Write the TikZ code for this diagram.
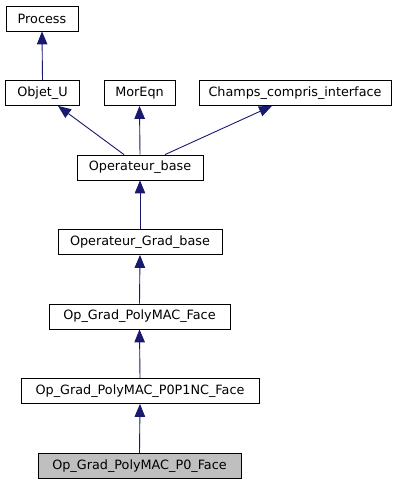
\documentclass[tikz,border=0pt]{standalone}
\usepackage{fontspec}
\setmainfont{DejaVu Sans}
\usepackage{xcolor}
\usepackage{tikz}
\usetikzlibrary{arrows.meta}

\definecolor{edgeblue}{HTML}{191970}
\definecolor{boxgray}{HTML}{BFBFBF}

\tikzset{
  cls/.style={draw=black, line width=0.8pt, fill=white, minimum height=25pt,
    inner sep=0pt, font=\fontsize{12.8pt}{14pt}\selectfont},
  edge/.style={draw=edgeblue, line width=0.9pt,
    -{Triangle[length=13pt, width=10.5pt]}}
}

\begin{document}
\begin{tikzpicture}[x=1pt, y=-1pt]
% Page frame
\useasboundingbox (0,0) rectangle (403,485);

% Classes, top row to bottom row
\node[cls, minimum width=72pt] (process) at (42,18.5) {Process};
\node[cls, minimum width=74pt] (objetu) at (42.5,93) {Objet\_U};
\node[cls, minimum width=71pt] (moreqn) at (139.5,93) {MorEqn};
\node[cls, minimum width=192pt] (champs) at (295,93) {Champs\_compris\_interface};
\node[cls, minimum width=126pt] (opbase) at (140,167.5) {Operateur\_base};
\node[cls, minimum width=164pt] (opgrad) at (140,242) {Operateur\_Grad\_base};
\node[cls, minimum width=181pt] (polyface) at (139.5,316.5) {Op\_Grad\_PolyMAC\_Face};
\node[cls, minimum width=238pt] (ponc) at (140,391) {Op\_Grad\_PolyMAC\_P0P1NC\_Face};
\node[cls, minimum width=203pt, fill=boxgray] (pzero) at (139.5,466) {Op\_Grad\_PolyMAC\_P0\_Face};

% Inheritance arrows (child to parent)
\draw[edge] (objetu.north) -- (process.south);
\draw[edge] ([xshift=-16pt]opbase.north) -- ([xshift=15.5pt]objetu.south);
\draw[edge] (opbase.north) -- (moreqn.south);
\draw[edge] ([xshift=25pt]opbase.north) -- ([xshift=-23pt]champs.south);
\draw[edge] (opgrad.north) -- (opbase.south);
\draw[edge] (polyface.north) -- (opgrad.south);
\draw[edge] (ponc.north) -- (polyface.south);
\draw[edge] (pzero.north) -- (ponc.south);
\end{tikzpicture}
\end{document}
